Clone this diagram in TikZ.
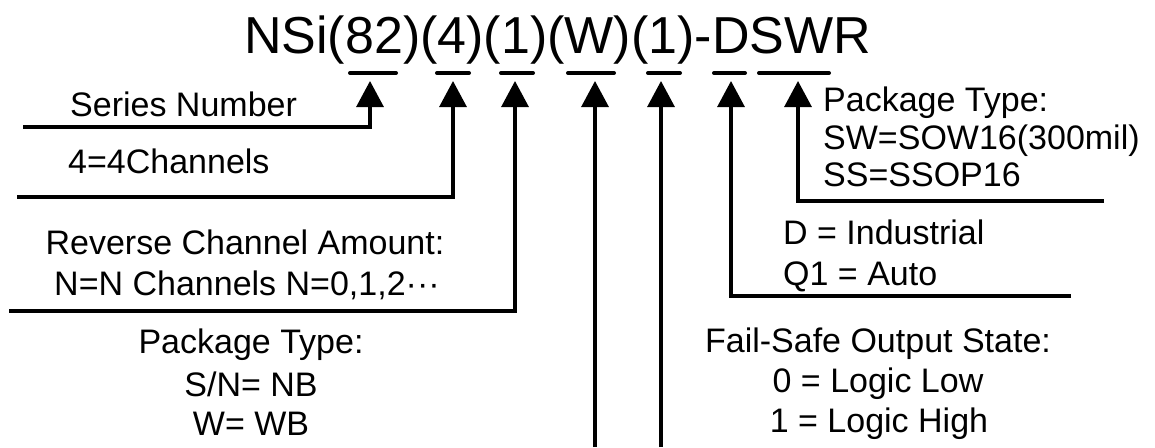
\documentclass[tikz,border=0pt]{standalone}
\usepackage{fontspec}
\setmainfont{Liberation Sans}
\usetikzlibrary{arrows.meta}
\begin{document}
\begin{tikzpicture}[x=1pt,y=-1pt,
  conn/.style={line width=3.2pt,-{Triangle[length=26pt,width=27pt]}},
  uline/.style={line width=4pt,line cap=round},
  lbl/.style={inner sep=0pt,anchor=base west,font=\fontsize{34}{40}\selectfont},
  clbl/.style={inner sep=0pt,anchor=base,font=\fontsize{34}{40}\selectfont},
  title/.style={inner sep=0pt,anchor=base west,font=\fontsize{52}{52}\selectfont}]
\useasboundingbox (0,0) rectangle (1155,447);
\fill[white] (0,0) rectangle (1155,447);
% title
\node[title] (t) at (244,53) {NSi(82)(4)(1)(W)(1)-DSWR};
% underlines
\coordinate (a1) at (350,73); \coordinate (b1) at (396,73);
\coordinate (a2) at (437,73); \coordinate (b2) at (469,73);
\coordinate (a3) at (501,73); \coordinate (b3) at (533,73);
\coordinate (a4) at (568,73); \coordinate (b4) at (614,73);
\coordinate (a5) at (648,73); \coordinate (b5) at (680,73);
\coordinate (a6) at (714,73); \coordinate (b6) at (745,73);
\coordinate (a7) at (759,73); \coordinate (b7) at (829,73);
\foreach \i in {1,...,7} \draw[uline] (a\i) -- (b\i);
% arrow tips
\coordinate (p1) at (370,81);
\coordinate (p2) at (453,81);
\coordinate (p3) at (515,81);
\coordinate (p4) at (595,81);
\coordinate (p5) at (661,81);
\coordinate (p6) at (731,81);
\coordinate (p7) at (798,81);
% free ends
\coordinate (s1) at (23,127);
\coordinate (s2) at (17,197);
\coordinate (s3) at (9,311);
\coordinate (s4) at (595,447);
\coordinate (s5) at (661,447);
\coordinate (s6) at (1071,296);
\coordinate (s7) at (1104,201);
\draw[conn] (s1) -| (p1);
\draw[conn] (s2) -| (p2);
\draw[conn] (s3) -| (p3);
\draw[conn] (s4) -- (p4);
\draw[conn] (s5) -- (p5);
\draw[conn] (s6) -| (p6);
\draw[conn] (s7) -| (p7);
% labels left
\node[lbl] (l1) at (70,116) {Series Number};
\node[lbl] (l2) at (68,173) {4=4Channels};
\node[clbl] (l3a) at (245,254) {Reverse Channel Amount:};
\node[clbl] (l3b) at (247,295) {N=N Channels N=0,1,2\textperiodcentered\textperiodcentered\textperiodcentered};
\node[clbl] (l4a) at (251,353) {Package Type:};
\node[clbl] (l4b) at (251,396) {S/N= NB};
\node[clbl] (l4c) at (251,435) {W= WB};
% labels right
\node[lbl] (r7a) at (823,111) {Package Type:};
\node[lbl] (r7b) at (823,149) {SW=SOW16(300mil)};
\node[lbl] (r7c) at (823,186) {SS=SSOP16};
\node[lbl] (r6a) at (783,244) {D = Industrial};
\node[lbl] (r6b) at (783,285) {Q1 = Auto};
\node[clbl] (r5a) at (878,352) {Fail-Safe Output State:};
\node[clbl] (r5b) at (878,392) {0 = Logic Low};
\node[clbl] (r5c) at (879,432) {1 = Logic High};
\end{tikzpicture}
\end{document}
